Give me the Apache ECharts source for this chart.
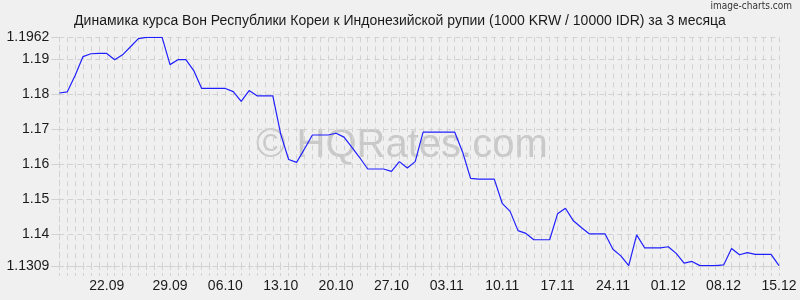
<!DOCTYPE html>
<html>
<head>
<meta charset="utf-8">
<script src="https://cdn.jsdelivr.net/npm/echarts@6/dist/echarts.min.js"></script>
<style>
html,body{margin:0;padding:0;background:#f0f0f0;}
#c{width:800px;height:300px;}
</style>
</head>
<body>
<div id="c"></div>
<script>
const titleText = 'Динамика курса Вон Республики Кореи к Индонезийской рупии (1000 KRW / 10000 IDR) за 3 месяца';
const rates = [
  1.1803, 1.1806, 1.1853, 1.1907, 1.1915, 1.1916, 1.1916, 1.1898, 1.1912, 1.1935,
  1.1958, 1.1962, 1.1962, 1.1962, 1.1884, 1.1898, 1.1898, 1.1867, 1.1816, 1.1816,
  1.1816, 1.1816, 1.1807, 1.1779, 1.1810, 1.1795, 1.1795, 1.1795, 1.1685, 1.1613,
  1.1605, 1.1643, 1.1683, 1.1683, 1.1683, 1.1688, 1.1677, 1.1648, 1.1618, 1.1586,
  1.1586, 1.1586, 1.1579, 1.1607, 1.1589, 1.1607, 1.1691, 1.1691, 1.1691, 1.1691,
  1.1691, 1.1634, 1.1559, 1.1557, 1.1557, 1.1557, 1.1488, 1.1465, 1.1410, 1.1402,
  1.1384, 1.1384, 1.1384, 1.1458, 1.1474, 1.1438, 1.1419, 1.1401, 1.1401, 1.1401,
  1.1357, 1.1338, 1.1310, 1.1398, 1.1361, 1.1361, 1.1361, 1.1364, 1.1345, 1.1317,
  1.1322, 1.1310, 1.1310, 1.1310, 1.1312, 1.1359, 1.1341, 1.1347, 1.1342, 1.1342,
  1.1342, 1.1310
];
const categories = rates.map((v, i) => i);
const xLabelIndex = [6, 14, 21, 28, 35, 42, 49, 56, 63, 70, 77, 84, 91];
const xLabelText = ['22.09','29.09','06.10','13.10','20.10','27.10','03.11','10.11','17.11','24.11','01.12','08.12','15.12'];
const yTicks = [1.1309, 1.14, 1.15, 1.16, 1.17, 1.18, 1.19, 1.1962];
const yMin = 1.1309, yMax = 1.1962;

const gridColor = '#d2d2d2';
const font = '"Liberation Sans", Arial, sans-serif';
const chart = echarts.init(document.getElementById('c'), null, {renderer: 'canvas'});
chart.setOption({
  backgroundColor: '#f0f0f0',
  animation: false,
  title: {
    text: titleText,
    left: 'center',
    top: 9,
    textStyle: {fontFamily: font, fontSize: 14, fontWeight: 'normal', color: '#1a1a1a'}
  },
  graphic: [
    {type: 'text', right: 8, top: 1, z: 10,
     style: {text: 'image-charts.com', font: '10px "DejaVu Sans Condensed", "Liberation Sans Narrow", sans-serif', fill: '#333'}},
    {type: 'text', left: 256, top: 126, z: -1, silent: true,
     style: {text: '© HQRates.com', font: '40px "Liberation Sans", Arial, sans-serif', fill: 'rgba(175,175,175,0.6)'}}
  ],
  grid: {left: 59.3, right: 21, top: 37.3, bottom: 34},
  xAxis: {
    type: 'category',
    data: categories,
    boundaryGap: false,
    axisLine: {show: true, lineStyle: {color: gridColor, type: [4, 3], width: 1}},
    axisTick: {show: true, interval: 0, length: 10, lineStyle: {color: gridColor, type: [4, 3]}},
    splitLine: {show: true, interval: 0, lineStyle: {color: gridColor, type: [5, 4], width: 1}},
    axisLabel: {
      interval: (i) => xLabelIndex.includes(i),
      formatter: (v, i) => { const k = xLabelIndex.indexOf(i); return k >= 0 ? xLabelText[k] : ''; },
      fontFamily: font, fontSize: 14, color: '#1a1a1a', margin: 13
    }
  },
  yAxis: {
    type: 'value',
    min: yMin, max: yMax,
    axisLine: {show: true, lineStyle: {color: gridColor, type: [5, 4]}},
    axisTick: {show: true, length: 8, customValues: yTicks, lineStyle: {color: gridColor}},
    splitLine: {show: true, lineStyle: {color: gridColor, type: [5, 4], width: 1}},
    axisLabel: {customValues: yTicks, fontFamily: font, fontSize: 14, color: '#1a1a1a', margin: 10,
      formatter: (v) => String(Math.round(v * 10000) / 10000)}
  },
  series: [{
    type: 'line',
    data: rates,
    showSymbol: false,
    symbol: 'none',
    lineStyle: {color: '#2020ff', width: 1.2},
    z: 5
  }]
});
</script>
</body>
</html>
